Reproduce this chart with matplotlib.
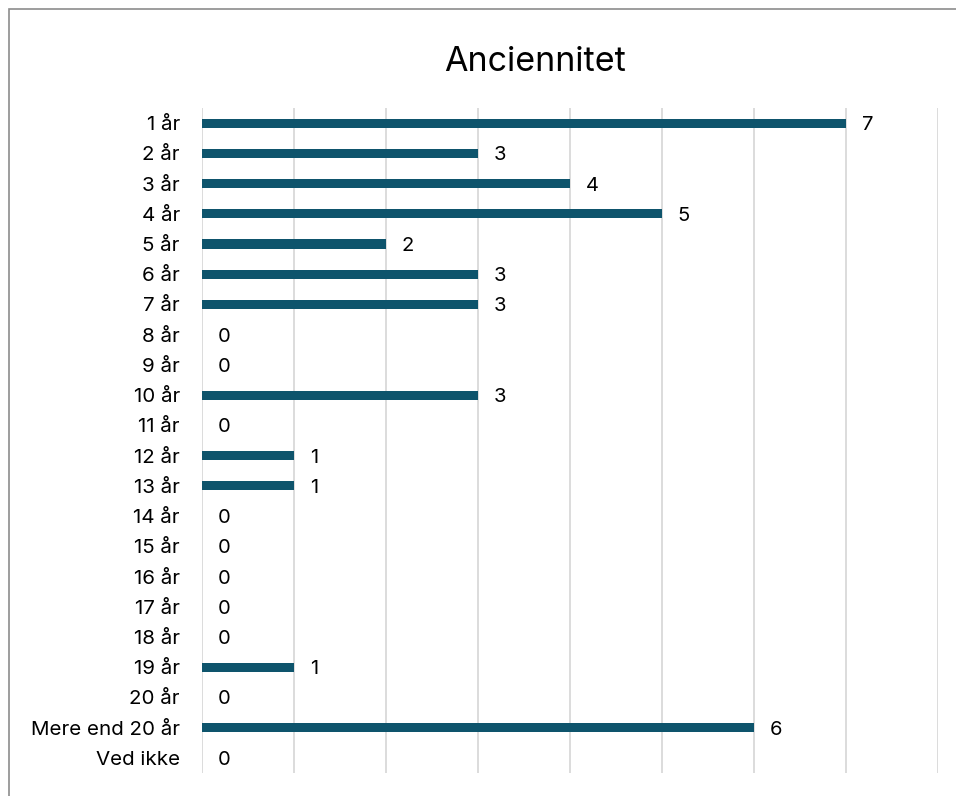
import matplotlib.pyplot as plt
from matplotlib.patches import Rectangle

plt.rcParams['font.family'] = ['Inter', 'DejaVu Sans']

# anciennitet i år og antal svar
categories = ['1 år', '2 år', '3 år', '4 år', '5 år', '6 år', '7 år', '8 år', '9 år',
              '10 år', '11 år', '12 år', '13 år', '14 år', '15 år', '16 år', '17 år',
              '18 år', '19 år', '20 år', 'Mere end 20 år', 'Ved ikke']
counts = [7, 3, 4, 5, 2, 3, 3, 0, 0, 3, 0, 1, 1, 0, 0, 0, 0, 0, 1, 0, 6, 0]

BAR = '#0E546C'
W, H = 956, 796

fig = plt.figure(figsize=(W / 100, H / 100), dpi=100)
ax = fig.add_axes([202 / W, 1 - 773 / H, 736 / W, 665 / H])

y = range(len(categories))
ax.barh(y, counts, height=0.3, color=BAR, zorder=3)
for i, v in zip(y, counts):
    ax.text(v + 0.17, i, str(v), va='center_baseline', ha='left', fontsize=14.5, color='black')

ax.set_xlim(0, 8)
ax.set_ylim(len(categories) - 0.5, -0.5)
ax.set_yticks(list(y))
ax.set_yticklabels(categories, fontsize=14.8, va='center_baseline')
ax.set_xticks(range(9))
ax.tick_params(axis='x', length=0, labelbottom=False)
ax.tick_params(axis='y', length=0, pad=16)
ax.grid(axis='x', color='#D9D9D9', linewidth=1.3, zorder=0)
for s in ax.spines.values():
    s.set_visible(False)

fig.text(535 / W, 1 - 62 / H, 'Anciennitet', ha='center', va='center', fontsize=24.5)

# ramme om diagrammet
fig.patches.append(Rectangle((9 / W, -0.1), 1.2, 1 - 9 / H + 0.1, transform=fig.transFigure,
                             fill=False, edgecolor='#8C8C8C', linewidth=1.2))

fig.savefig('out.png', dpi=100)
